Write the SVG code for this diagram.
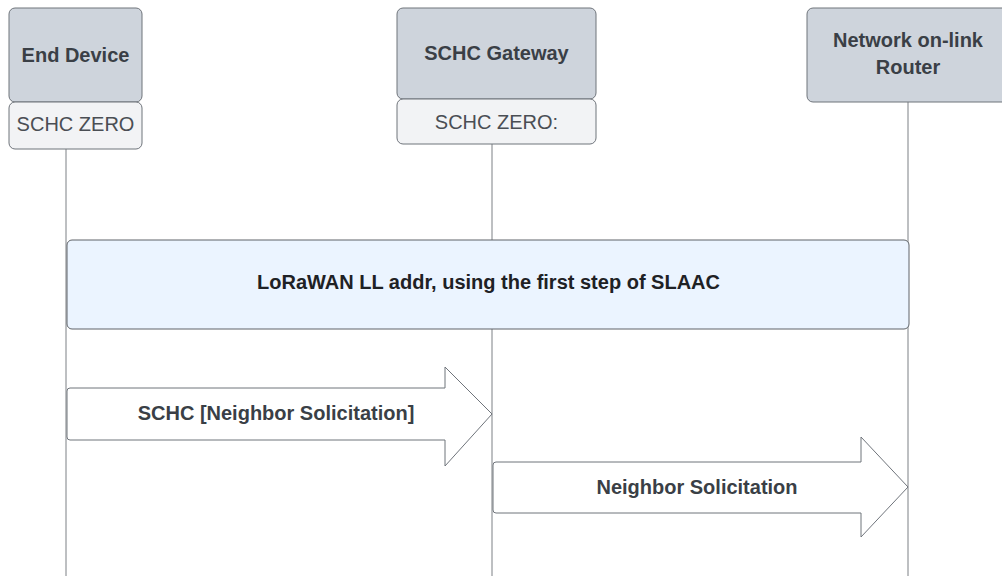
<svg xmlns="http://www.w3.org/2000/svg" width="1002" height="576" viewBox="0 0 1002 576">
  <style>
    .head { fill: #ced4dc; stroke: #6f747b; stroke-width: 1; }
    .sub { fill: #f2f3f5; stroke: #6f747b; stroke-width: 1; }
    .life { stroke: #7d8085; stroke-width: 1; fill: none; }
    .band { fill: #ebf4ff; stroke: #5f6368; stroke-width: 1; }
    .msg { fill: #ffffff; stroke: #6f747b; stroke-width: 1; stroke-linejoin: round; }
    .bold { font-family: "Liberation Sans", Arial, sans-serif; font-weight: bold; font-size: 20px; fill: #3a3f46; text-anchor: middle; }
    .dark { fill: #1e2125; }
    .reg { font-family: "Liberation Sans", Arial, sans-serif; font-size: 20px; fill: #4a4e54; text-anchor: middle; }
  </style>

  <!-- lifelines -->
  <g id="connectors">
    <line class="life" x1="66" y1="149" x2="66" y2="576"/>
    <line class="life" x1="492" y1="144" x2="492" y2="576"/>
    <line class="life" x1="908" y1="102" x2="908" y2="576"/>
  </g>

  <g id="end-device">
    <rect class="head" x="9" y="8" width="133" height="94" rx="6"/>
    <text class="bold" x="75.5" y="62">End Device</text>
    <rect class="sub" x="9" y="102" width="133" height="47" rx="6"/>
    <text class="reg" x="75.5" y="131">SCHC ZERO</text>
  </g>

  <g id="schc-gateway">
    <rect class="head" x="397" y="8" width="199" height="91" rx="6"/>
    <text class="bold" x="496.5" y="60">SCHC Gateway</text>
    <rect class="sub" x="397" y="99" width="199" height="45" rx="6"/>
    <text class="reg" x="496.5" y="129">SCHC ZERO:</text>
  </g>

  <g id="router">
    <rect class="head" x="807" y="8" width="210" height="94" rx="6"/>
    <text class="bold" x="908" y="47">Network on-link</text>
    <text class="bold" x="908" y="74">Router</text>
  </g>

  <g id="slaac-step">
    <rect class="band" x="67" y="240" width="842" height="89" rx="5"/>
    <text class="bold dark" x="488.5" y="289">LoRaWAN LL addr, using the first step of SLAAC</text>
  </g>

  <g id="msg-schc-ns">
    <path class="msg" d="M70,388 L445,388 L445,367 L492,414 L445,466 L445,440 L70,440 Q67,440 67,437 L67,391 Q67,388 70,388 Z"/>
    <text class="bold" x="276" y="420">SCHC [Neighbor Solicitation]</text>
  </g>

  <g id="msg-ns">
    <path class="msg" d="M496,462 L861,462 L861,437 L908,487 L861,537 L861,513 L496,513 Q493,513 493,510 L493,465 Q493,462 496,462 Z"/>
    <text class="bold" x="697" y="494">Neighbor Solicitation</text>
  </g>
</svg>
